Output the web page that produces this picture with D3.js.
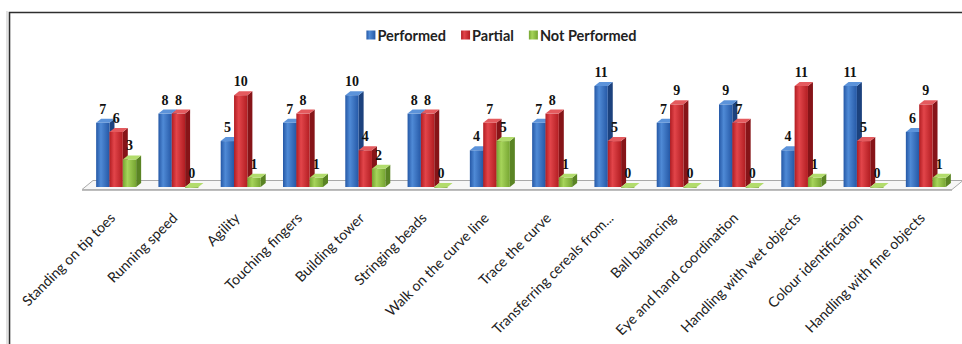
<!DOCTYPE html>
<html>
<head>
<meta charset="utf-8">
<script src="https://cdn.jsdelivr.net/npm/d3@7"></script>
<style>
  html, body { margin: 0; padding: 0; background: #fff; }
  svg { display: block; }
</style>
</head>
<body>
<svg id="chart" width="962" height="344"></svg>
<script>
// Motor skill assessment: counts per activity
const categories = [
  "Standing on tip toes", "Running speed", "Agility", "Touching fingers",
  "Building tower", "Stringing beads", "Walk on the curve line", "Trace the curve",
  "Transferring cereals from...", "Ball balancing", "Eye and hand coordination",
  "Handling with wet objects", "Colour identification", "Handling with fine objects"
];
const seriesNames = ["Performed", "Partial", "Not Performed"];
const performed    = [7, 8, 5, 7, 10, 8, 4, 7, 11, 7, 9, 4, 11, 6];
const partial      = [6, 8, 10, 8, 4, 8, 7, 8, 5, 9, 7, 11, 5, 9];
const notPerformed = [3, 0, 1, 1, 2, 0, 5, 1, 0, 0, 0, 1, 0, 1];
const seriesValues = [performed, partial, notPerformed];

// Face colours per series
const palette = [
  { edge: "#2558a6", mid: "#4f8ad6", side: "#1c427e", top: "#5c93da" },
  { edge: "#b21d22", mid: "#e2454a", side: "#861418", top: "#e45a5e" },
  { edge: "#76a532", mid: "#a6d45a", side: "#5a8424", top: "#b2dc6c" }
];

const svg = d3.select("#chart");
const W = 962, H = 344;

svg.append("rect").attr("width", W).attr("height", H).attr("fill", "#fff");

// Frame
svg.append("path").attr("d", `M7,${H} V11`).attr("stroke", "#d8d8d8").attr("stroke-width", 1.5).attr("fill", "none");
svg.append("path").attr("d", `M9.5,${H} V12.5 H${W}`).attr("stroke", "#2e2e2e").attr("stroke-width", 1.6).attr("fill", "none");

// Scales
const x = d3.scaleBand().domain(categories).range([85, 957]).padding(0);
const x1 = d3.scaleBand().domain(d3.range(3)).range([-20, 20]).padding(0);
const y = d3.scaleLinear().domain([0, 11]).range([187, 86]);

// Depth offsets for the pseudo-3D look
const floorDx = 11, floorDy = -9;
const barDx = 5, barDy = -4;

// Gradients
const defs = svg.append("defs");
palette.forEach((p, i) => {
  const g = defs.append("linearGradient").attr("id", "grad" + i)
    .attr("x1", "0").attr("x2", "1").attr("y1", "0").attr("y2", "0");
  g.append("stop").attr("offset", "0%").attr("stop-color", p.edge);
  g.append("stop").attr("offset", "35%").attr("stop-color", p.mid);
  g.append("stop").attr("offset", "100%").attr("stop-color", p.edge);
});

// Floor
const [r0, r1] = x.range();
const base = y(0);
const fy = base + 2.5;
const fl = r0 - 3, fr = r1 - 5;
svg.append("path")
  .attr("d", `M${fl},${fy} L${fr},${fy} L${fr + floorDx},${fy + floorDy} L${fl + floorDx},${fy + floorDy} Z`)
  .attr("fill", "#f7f7f7").attr("stroke", "#a9a9a9").attr("stroke-width", 1);
svg.append("path")
  .attr("d", `M${fl},${fy} L${fr},${fy} L${fr},${fy + 1.5} L${fl},${fy + 1.5} Z`)
  .attr("fill", "#bdbdbd");

// Bars
const bars = svg.append("g");
categories.forEach((cat, ci) => {
  seriesValues.forEach((vals, si) => {
    const v = vals[ci];
    const p = palette[si];
    const bx = x(cat) + x.bandwidth() / 2 + x1(si);
    const w = x1.bandwidth();
    const top = y(v);
    const g = bars.append("g");
    // side face
    g.append("path")
      .attr("d", `M${bx + w},${top} L${bx + w + barDx},${top + barDy} L${bx + w + barDx},${base + barDy} L${bx + w},${base} Z`)
      .attr("fill", p.side);
    // front face
    g.append("rect")
      .attr("x", bx).attr("y", top)
      .attr("width", w).attr("height", Math.max(base - top, 0.8))
      .attr("fill", `url(#grad${si})`);
    // top face
    g.append("path")
      .attr("d", `M${bx},${top} L${bx + barDx},${top + barDy} L${bx + w + barDx},${top + barDy} L${bx + w},${top} Z`)
      .attr("fill", p.top);
  });
});

// Value labels
const labels = svg.append("g")
  .attr("font-family", "'Liberation Serif', 'Times New Roman', serif")
  .attr("font-weight", "bold").attr("font-size", 14).attr("fill", "#111")
  .attr("text-anchor", "middle");
categories.forEach((cat, ci) => {
  seriesValues.forEach((vals, si) => {
    const v = vals[ci];
    const bx = x(cat) + x.bandwidth() / 2 + x1(si);
    labels.append("text")
      .attr("x", bx + x1.bandwidth() / 2)
      .attr("y", y(v) - 9)
      .text(v);
  });
});

// Category axis labels
const axis = svg.append("g")
  .attr("font-family", "Lato, 'Open Sans', sans-serif")
  .attr("font-size", 14.2).attr("fill", "#222");
categories.forEach(cat => {
  axis.append("text")
    .attr("transform", `translate(${x(cat) + x.bandwidth() / 2},219) rotate(-45)`)
    .attr("text-anchor", "end")
    .text(cat);
});

// Legend
const legend = svg.append("g")
  .attr("font-family", "Lato, 'Open Sans', sans-serif")
  .attr("font-weight", "bold").attr("font-size", 14.5).attr("fill", "#222");
let lx = 0;
seriesNames.forEach((name, i) => {
  const g = legend.append("g").attr("transform", `translate(${lx},0)`);
  g.append("rect").attr("x", 0).attr("y", 30.5).attr("width", 9).attr("height", 9)
    .attr("fill", `url(#grad${i})`);
  const t = g.append("text").attr("x", 11).attr("y", 40.5).text(name);
  lx += 11 + t.node().getComputedTextLength() + 15;
});
const legendW = lx - 15;
legend.attr("transform", `translate(${501.5 - legendW / 2},0)`);
</script>
</body>
</html>
